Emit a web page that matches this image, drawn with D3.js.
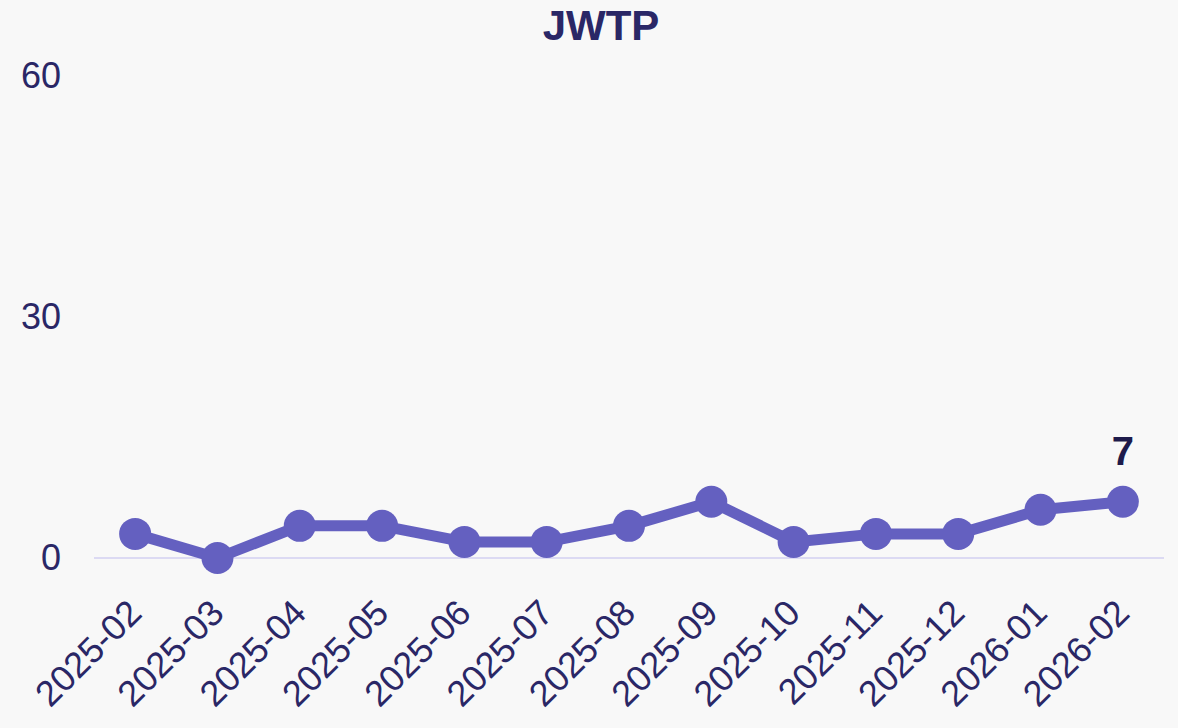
<!DOCTYPE html>
<html><head><meta charset="utf-8">
<script src="https://cdn.jsdelivr.net/npm/d3@7"></script>
<style>html,body{margin:0;padding:0;background:#f8f8f8;}svg{display:block;}</style>
</head><body>
<script>
const title = "JWTP";
const months = ["2025-02","2025-03","2025-04","2025-05","2025-06","2025-07","2025-08","2025-09","2025-10","2025-11","2025-12","2026-01","2026-02"];
const counts = [3,0,4,4,2,2,4,7,2,3,3,6,7];
const yTicks = [0,30,60];

const W = 1178, H = 728;
const svg = d3.select("body").append("svg").attr("width", W).attr("height", H);
svg.append("rect").attr("width", W).attr("height", H).attr("fill", "#f8f8f8");

const x = d3.scalePoint().domain(months).range([94, 1164]).padding(0.5);
const y = d3.scaleLinear().domain([0, 60]).range([558, 76]);

const font = "'Liberation Sans', Arial, sans-serif";
const textColor = "#2a2766";

svg.append("text").attr("x", 601).attr("y", 40).attr("text-anchor", "middle")
  .attr("font-family", font).attr("font-weight", "bold").attr("font-size", 42)
  .attr("fill", textColor).text(title);

// y axis labels
const yAxis = d3.axisLeft(y).tickValues(yTicks).tickSize(0).tickPadding(0);
const ya = svg.append("g").attr("transform", "translate(61,0)").call(yAxis);
ya.select(".domain").remove();
ya.selectAll("text").attr("font-family", font).attr("font-size", 36).attr("fill", textColor);

// baseline
svg.append("line").attr("x1", 94).attr("x2", 1164).attr("y1", y(0)).attr("y2", y(0))
  .attr("stroke", "#dcdaf3").attr("stroke-width", 2);

// x axis labels
const xAxis = d3.axisBottom(x).tickSize(0).tickPadding(0);
const xa = svg.append("g").call(xAxis);
xa.select(".domain").remove();
xa.selectAll(".tick text")
  .attr("font-family", font).attr("font-size", 36).attr("fill", textColor)
  .attr("text-anchor", "end").attr("dy", null).attr("y", 0)
  .attr("transform", "translate(8,615) rotate(-45)");

const data = months.map((m, i) => ({m, v: counts[i]}));
const color = "#6460c0";
svg.append("path").datum(data)
  .attr("fill", "none").attr("stroke", color).attr("stroke-width", 11)
  .attr("stroke-linejoin", "round")
  .attr("d", d3.line().x(d => x(d.m)).y(d => y(d.v)));
svg.selectAll("circle.pt").data(data).enter().append("circle")
  .attr("class", "pt").attr("cx", d => x(d.m)).attr("cy", d => y(d.v)).attr("r", 16)
  .attr("fill", color);

const last = data[data.length - 1];
svg.append("text").attr("x", x(last.m)).attr("y", y(last.v) - 37)
  .attr("text-anchor", "middle").attr("font-family", font).attr("font-weight", "bold")
  .attr("font-size", 40).attr("fill", "#1e1b4b").text(last.v);
</script>
</body></html>
